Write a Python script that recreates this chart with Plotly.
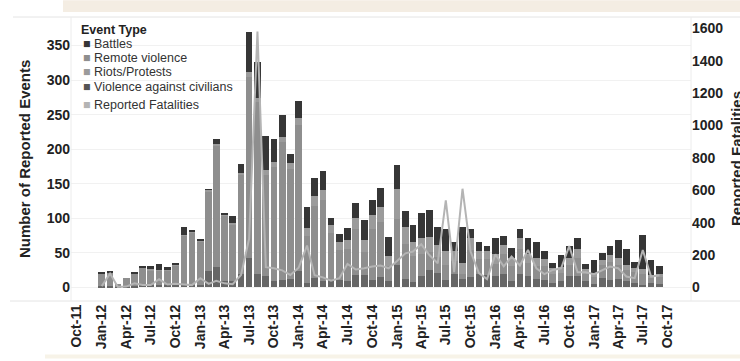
import plotly.graph_objects as go
import pandas as pd

# ---- data (monthly, Jan-2012 .. Sep-2017) ----
months = pd.date_range("2012-01-01", "2017-09-01", freq="MS").strftime("%Y-%m-%d").tolist()

total = [21, 23, 5, 14, 21, 31, 31, 34, 29, 34, 88, 82,
         69, 142, 214, 107, 103, 178, 369, 326, 219, 215, 250, 193,
         269, 117, 159, 169, 101, 77, 86, 122, 98, 127, 144, 73,
         177, 111, 91, 108, 112, 87, 84, 65, 87, 85, 65, 60,
         72, 75, 57, 85, 71, 65, 53, 36, 47, 60, 71, 34,
         39, 50, 60, 69, 55, 37, 76, 39, 31]
battles = [1, 2, 0, 0, 1, 2, 5, 9, 4, 1, 12, 1,
           1, 1, 7, 1, 10, 12, 58, 52, 49, 33, 32, 13,
           24, 31, 27, 28, 10, 11, 17, 21, 29, 22, 27, 28,
           35, 24, 26, 37, 39, 25, 32, 13, 51, 13, 12, 7,
           24, 13, 14, 13, 22, 22, 12, 8, 18, 18, 16, 8,
           18, 10, 13, 26, 22, 9, 49, 21, 12]
remote = [0, 0, 0, 0, 0, 0, 1, 1, 1, 1, 1, 1,
          1, 2, 3, 2, 3, 4, 6, 6, 8, 8, 8, 8,
          10, 12, 14, 14, 12, 12, 14, 16, 18, 20, 22, 14,
          43, 24, 20, 22, 22, 18, 20, 14, 16, 18, 12, 12,
          14, 14, 12, 16, 14, 12, 10, 8, 8, 10, 12, 6,
          6, 8, 10, 10, 8, 6, 8, 4, 4]
civilians = [2, 2, 1, 1, 2, 3, 3, 4, 3, 4, 4, 4,
             4, 23, 30, 9, 9, 20, 43, 19, 16, 9, 11, 12,
             23, 6, 13, 9, 11, 10, 9, 18, 18, 11, 15, 9,
             32, 12, 8, 17, 25, 21, 10, 19, 12, 15, 20, 18,
             17, 20, 9, 19, 16, 12, 11, 6, 9, 17, 16, 9,
             5, 13, 11, 12, 9, 6, 4, 6, 5]
riots = [t - b - r - c for t, b, r, c in zip(total, battles, remote, civilians)]

fatalities = [8, 85, 2, 5, 25, 15, 15, 50, 18, 22, 18, 14,
              57, 22, 40, 25, 20, 77, 300, 1580, 125, 118, 105, 77,
              122, 258, 75, 62, 42, 57, 145, 110, 118, 129, 135, 118,
              163, 210, 221, 266, 200, 149, 537, 94, 609, 221, 88, 51,
              204, 130, 190, 135, 231, 118, 82, 108, 118, 255, 94, 93,
              82, 108, 129, 118, 67, 57, 231, 67, 75]

tick_dates = pd.date_range("2011-10-01", "2017-10-01", freq="3MS")
tick_vals = tick_dates.strftime("%Y-%m-%d").tolist()
tick_text = tick_dates.strftime("%b-%y").tolist()

series = [
    ("Violence against civilians", civilians, "#666666"),
    ("Riots/Protests", riots, "#8e8e8e"),
    ("Remote violence", remote, "#9b9b9b"),
    ("Battles", battles, "#363636"),
]

FONT = "Liberation Sans, Arial, sans-serif"
W, H = 740, 361
L, R, T, B = 71, 691, 18, 303

def px(x):
    return (x - L) / (R - L)

def py(y):
    return (B - y) / (B - T)

fig = go.Figure()
bar_w = 25 * 86400000
for name, vals, col in series:
    fig.add_trace(go.Bar(x=months, y=vals, name=name, marker_color=col,
                         marker_line_width=0, width=bar_w, showlegend=False))
fig.add_trace(go.Scatter(x=months, y=fatalities, yaxis="y2", mode="lines",
                         line=dict(color="#b4b4b4", width=2), showlegend=False,
                         name="Reported Fatalities"))

fig.update_layout(
    width=W, height=H, barmode="stack",
    margin=dict(l=L, r=W - R, t=T, b=H - B),
    paper_bgcolor="white", plot_bgcolor="white",
    font=dict(family=FONT, color="#222222"),
    xaxis=dict(type="date", range=["2011-09-09", "2017-12-27"],
               tickmode="array", tickvals=tick_vals, ticktext=tick_text,
               tickangle=-90, tickfont=dict(size=14, family=FONT, color="#222222", weight="bold"),
               showgrid=False, zeroline=False, showline=False, ticks=""),
    yaxis=dict(range=[-19.7, 389.8], tickvals=[0, 50, 100, 150, 200, 250, 300, 350],
               tickfont=dict(size=14, family=FONT, color="#222222", weight="bold"),
               showgrid=True, gridcolor="#f1f1f1", gridwidth=1, zeroline=False,
               showline=False, ticks=""),
    yaxis2=dict(range=[-84, 1663], overlaying="y", side="right",
                tickvals=[0, 200, 400, 600, 800, 1000, 1200, 1400, 1600],
                tickfont=dict(size=14, family=FONT, color="#222222", weight="bold"),
                showgrid=False, zeroline=False, showline=False, ticks=""),
)

shapes = [
    dict(type="rect", xref="paper", yref="paper", x0=px(63), x1=px(740), y0=py(12), y1=py(0),
         fillcolor="#f4ede3", line_width=0, layer="below"),
    dict(type="rect", xref="paper", yref="paper", x0=px(45), x1=px(740), y0=py(361), y1=py(357),
         fillcolor="#f7f3e8", line_width=0, layer="below"),
    dict(type="line", xref="paper", yref="paper", x0=px(13), x1=px(740), y0=py(17), y1=py(17),
         line=dict(color="#e4e4e4", width=1)),
    dict(type="line", xref="paper", yref="paper", x0=px(10), x1=px(740), y0=py(303), y1=py(303),
         line=dict(color="#e4e4e4", width=1)),
    dict(type="line", xref="paper", yref="paper", x0=px(71), x1=px(71), y0=py(17), y1=py(303),
         line=dict(color="#ececec", width=1)),
    dict(type="line", xref="paper", yref="paper", x0=px(691), x1=px(691), y0=py(17), y1=py(303),
         line=dict(color="#ececec", width=1)),
]
fig.update_layout(shapes=shapes)

ann = []
ann.append(dict(text="<b>Number of Reported Events</b>", x=px(24), y=py(160), xref="paper", yref="paper",
                textangle=-90, showarrow=False, font=dict(size=15, family=FONT, color="#222222"),
                xanchor="center", yanchor="middle"))
ann.append(dict(text="<b>Reported Fatalities</b>", x=px(736), y=py(160), xref="paper", yref="paper",
                textangle=-90, showarrow=False, font=dict(size=15, family=FONT, color="#222222"),
                xanchor="center", yanchor="middle"))
ann.append(dict(text="<b>Event Type</b>", x=px(79), y=py(30), xref="paper", yref="paper",
                showarrow=False, font=dict(size=12.5, family=FONT, color="#222222"),
                xanchor="left", yanchor="middle"))
legend_items = [("Battles", "#363636", 44), ("Remote violence", "#8e8e8e", 58.3),
                ("Riots/Protests", "#9b9b9b", 72.7), ("Violence against civilians", "#555555", 87.3),
                ("Reported Fatalities", "#b4b4b4", 106)]
for name, col, yy in legend_items:
    ann.append(dict(text=f"<span style='color:{col}'>■</span> {name}", x=px(81), y=py(yy),
                    xref="paper", yref="paper", showarrow=False,
                    font=dict(size=12.5, family=FONT, color="#333333"),
                    xanchor="left", yanchor="middle"))
fig.update_layout(annotations=ann)

fig.write_html("out.html")
